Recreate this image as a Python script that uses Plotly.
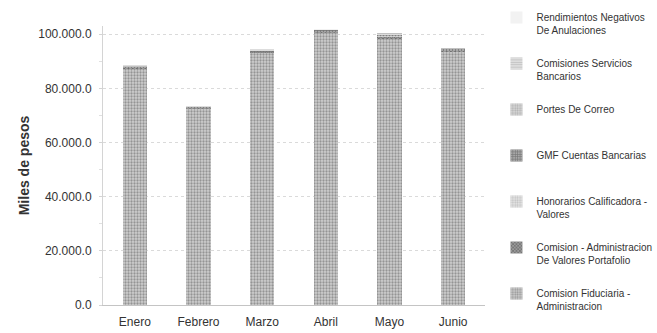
import plotly.graph_objects as go

meses = ["Enero", "Febrero", "Marzo", "Abril", "Mayo", "Junio"]

# stacked from bottom to top
comision_fiduciaria = [87200, 72400, 93100, 100500, 98400, 93500]
comision_admin_valores = [600, 500, 600, 600, 700, 600]
honorarios_calificadora = [0, 0, 0, 0, 300, 0]
gmf_cuentas = [400, 300, 400, 500, 500, 500]
portes_correo = [20, 20, 20, 20, 20, 20]
comisiones_servicios = [150, 120, 150, 150, 150, 150]
rendimientos_negativos = [0, 0, 0, 30, 0, 0]

tick_vals = [0, 20000, 40000, 60000, 80000, 100000]
tick_text = ["0.0", "20.000.0", "40.000.0", "60.000.0", "80.000.0", "100.000.0"]

series = [
    ("Comision Fiduciaria -<br>Administracion", comision_fiduciaria, ".", "#cfcfcf", "#5a5a5a"),
    ("Comision - Administracion<br>De Valores Portafolio", comision_admin_valores, "x", "#9a9a9a", "#3a3a3a"),
    ("Honorarios Calificadora -<br>Valores", honorarios_calificadora, ".", "#e6e6e6", "#9a9a9a"),
    ("GMF Cuentas Bancarias<br> ", gmf_cuentas, "+", "#a8a8a8", "#404040"),
    ("Portes De Correo<br> ", portes_correo, ".", "#d8d8d8", "#888888"),
    ("Comisiones Servicios<br>Bancarios", comisiones_servicios, "-", "#e2e2e2", "#a0a0a0"),
    ("Rendimientos Negativos<br>De Anulaciones", rendimientos_negativos, "", "#f2f2f2", "#bbbbbb"),
]

font_main = "Liberation Sans, Arial, sans-serif"

fig = go.Figure()
for i, (name, vals, shape, bg, fg) in enumerate(series):
    fig.add_trace(go.Bar(
        x=meses, y=vals, name=name, legendgroup=f"g{i}", legendrank=100 - i,
        marker=dict(color=bg, line=dict(width=0),
                    pattern=dict(shape=shape, fgcolor=fg, bgcolor=bg, size=3, solidity=0.45)),
    ))

fig.update_layout(
    barmode="stack",
    bargap=0.62,
    width=657, height=333,
    margin=dict(l=103, r=172, t=26, b=28, autoexpand=False),
    paper_bgcolor="white", plot_bgcolor="white",
    font=dict(family=font_main, size=12, color="#333333"),
    showlegend=True,
    legend=dict(
        x=1.03, xanchor="left", y=1.077, yanchor="top",
        traceorder="grouped", tracegroupgap=17, maxheight=400,
        valign="top", font=dict(size=10, color="#333333"),
        itemwidth=30, bgcolor="rgba(0,0,0,0)",
    ),
    xaxis=dict(
        showgrid=False, showline=True, linecolor="#c4c4c4", linewidth=1,
        ticks="", tickfont=dict(size=12), ticklabelstandoff=6,
    ),
    yaxis=dict(
        range=[0, 103000], tickvals=tick_vals, ticktext=tick_text,
        showgrid=True, gridcolor="#dadada", griddash="dot", gridwidth=1,
        showline=True, linecolor="#d4d4d4", linewidth=1,
        ticks="outside", ticklen=3, tickcolor="#d4d4d4", ticklabelstandoff=5,
        tickfont=dict(size=12), zeroline=False,
        title=dict(text="<b>Miles de pesos</b>", standoff=5,
                   font=dict(family="Liberation Sans, Arial, sans-serif", size=14, color="#333333")),
        minor=dict(dtick=10000, ticks="outside", ticklen=3, tickcolor="#e0e0e0"),
    ),
)

fig.write_html("out.html", config={"displayModeBar": False},
               post_script="document.body.style.margin='0';")
